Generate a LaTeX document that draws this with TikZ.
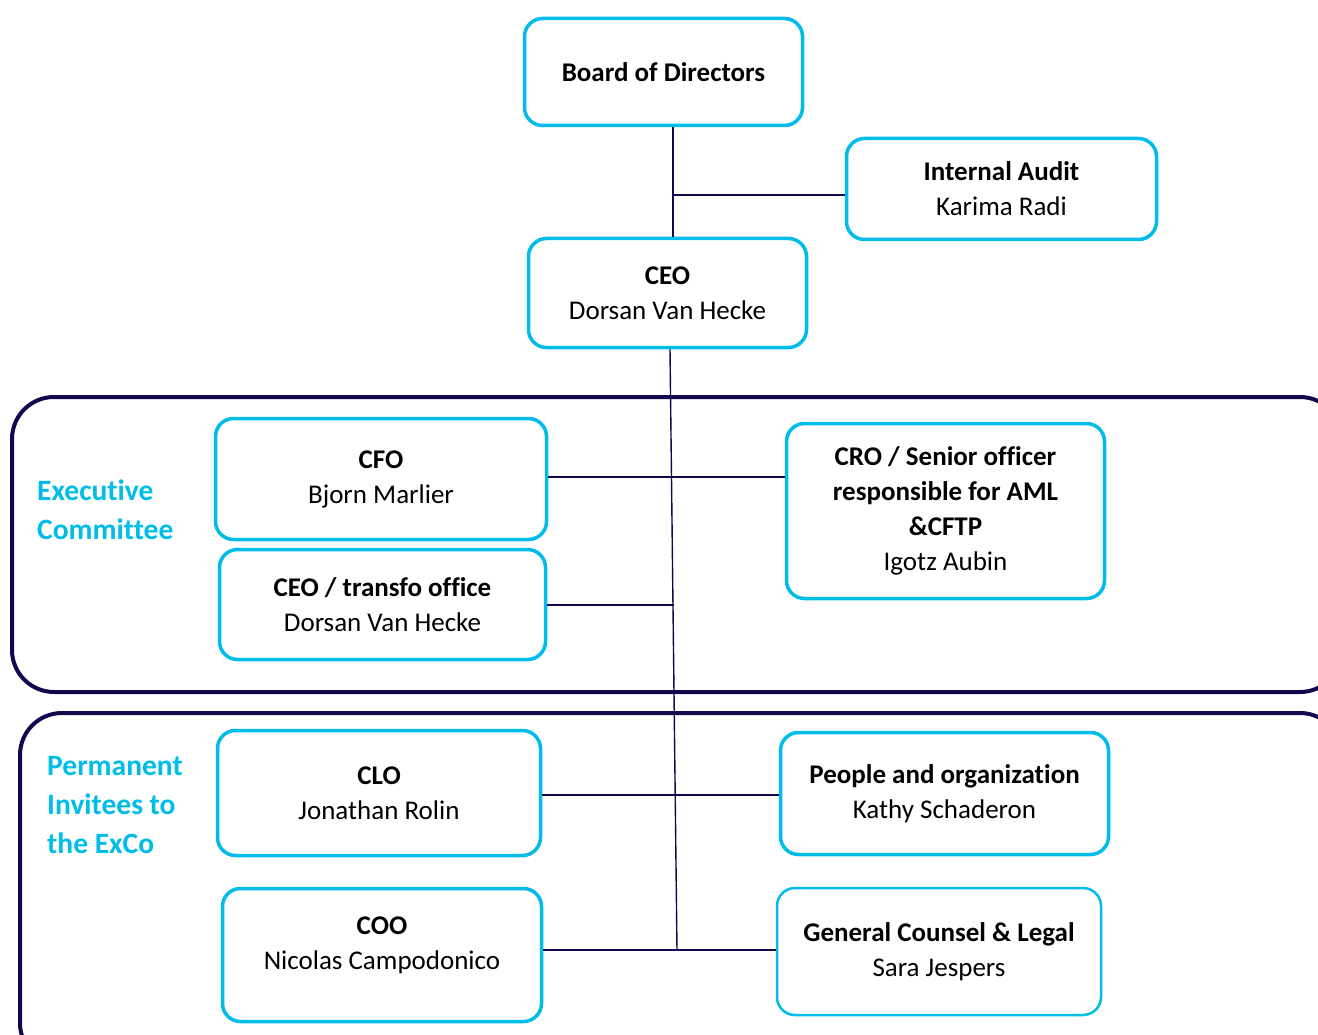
\documentclass[tikz,border=0pt]{standalone}
\usepackage{fontspec}
\setmainfont[Ligatures=NoCommon]{Carlito}
\definecolor{cy}{RGB}{0,188,232}
\definecolor{navy}{RGB}{22,6,78}
\tikzset{
  box/.style={draw=cy, line width=3.5pt, rounded corners=18pt, align=center,
    font=\fontsize{27}{35}\selectfont, inner sep=0pt, text=black},
  frame/.style={draw=navy, line width=4pt, rounded corners=42pt},
  conn/.style={draw=navy, line width=1.4pt},
  grp/.style={text=cy, align=left, anchor=west, font=\bfseries\fontsize{29.5}{39}\selectfont, inner sep=0pt}
}
\begin{document}
\begin{tikzpicture}[x=1pt,y=-1pt]
\useasboundingbox (0,0) rectangle (1318,1035);
\clip (0,0) rectangle (1318,1035);
% frames
\draw[frame] (12,397) rectangle (1342,692);
\draw[frame] (20,713) rectangle (1342,1065);
% group labels
\node[grp] (lexec) at (37,509.5) {Executive\\Committee};
\node[grp] (lperm) at (47,805.5) {Permanent\\Invitees to\\the ExCo};
% boxes
\node[box, minimum width=278pt, minimum height=107pt] (board) at (663.5,72) {\textbf{Board of Directors}};
\node[box, minimum width=310pt, minimum height=101pt] (ia) at (1001.5,189) {\textbf{Internal Audit}\\Karima Radi};
\node[box, minimum width=278pt, minimum height=109pt] (ceo) at (667.5,293) {\textbf{CEO}\\Dorsan Van Hecke};
\node[box, minimum width=331pt, minimum height=121pt] (cfo) at (381,479) {\textbf{CFO}\\Bjorn Marlier};
\node[box, minimum width=326pt, minimum height=110pt] (ceot) at (382.5,604.5) {\textbf{CEO / transfo office}\\Dorsan Van Hecke};
\node[box, minimum width=318pt, minimum height=175pt] (cro) at (945.5,511) {\textbf{CRO / Senior officer}\\\textbf{responsible for AML}\\\textbf{\&CFTP}\\Igotz Aubin};
\node[box, minimum width=323pt, minimum height=125pt] (clo) at (379,793) {\textbf{CLO}\\Jonathan Rolin};
\node[box, minimum width=328pt, minimum height=122pt] (people) at (944.5,793.5) {\textbf{People and organization}\\Kathy Schaderon};
\node[box, minimum width=319pt, minimum height=133pt] (coo) at (382,955) {};
\node[align=center, font=\fontsize{27}{35}\selectfont, inner sep=0pt] (cootext) at (382,945) {\textbf{COO}\\Nicolas Campodonico};
\node[box, line width=2.5pt, minimum width=324pt, minimum height=127pt] (gc) at (939,951.5) {\textbf{General Counsel \& Legal}\\Sara Jespers};
% trunk coordinates
\coordinate (j0) at (673,195);
\coordinate (j1) at (673.5,605);
\coordinate (tb) at (677,950);
% connectors
\draw[conn] ([xshift=9.5pt]board.south) -- ([xshift=5.5pt]ceo.north);
\draw[conn] (j0) -- (ia.west |- j0);
\draw[conn] ([xshift=2.5pt]ceo.south) -- (tb);
\draw[conn] ([yshift=2pt]cfo.east) -- ([yshift=2pt]cro.west |- cfo.east);
\draw[conn] (ceot.east |- j1) -- (j1);
\draw[conn] ([yshift=-2pt]clo.east) -- ([yshift=-2pt]people.west |- clo.east);
\draw[conn] (coo.east |- tb) -- (gc.west |- tb);
\end{tikzpicture}
\end{document}
